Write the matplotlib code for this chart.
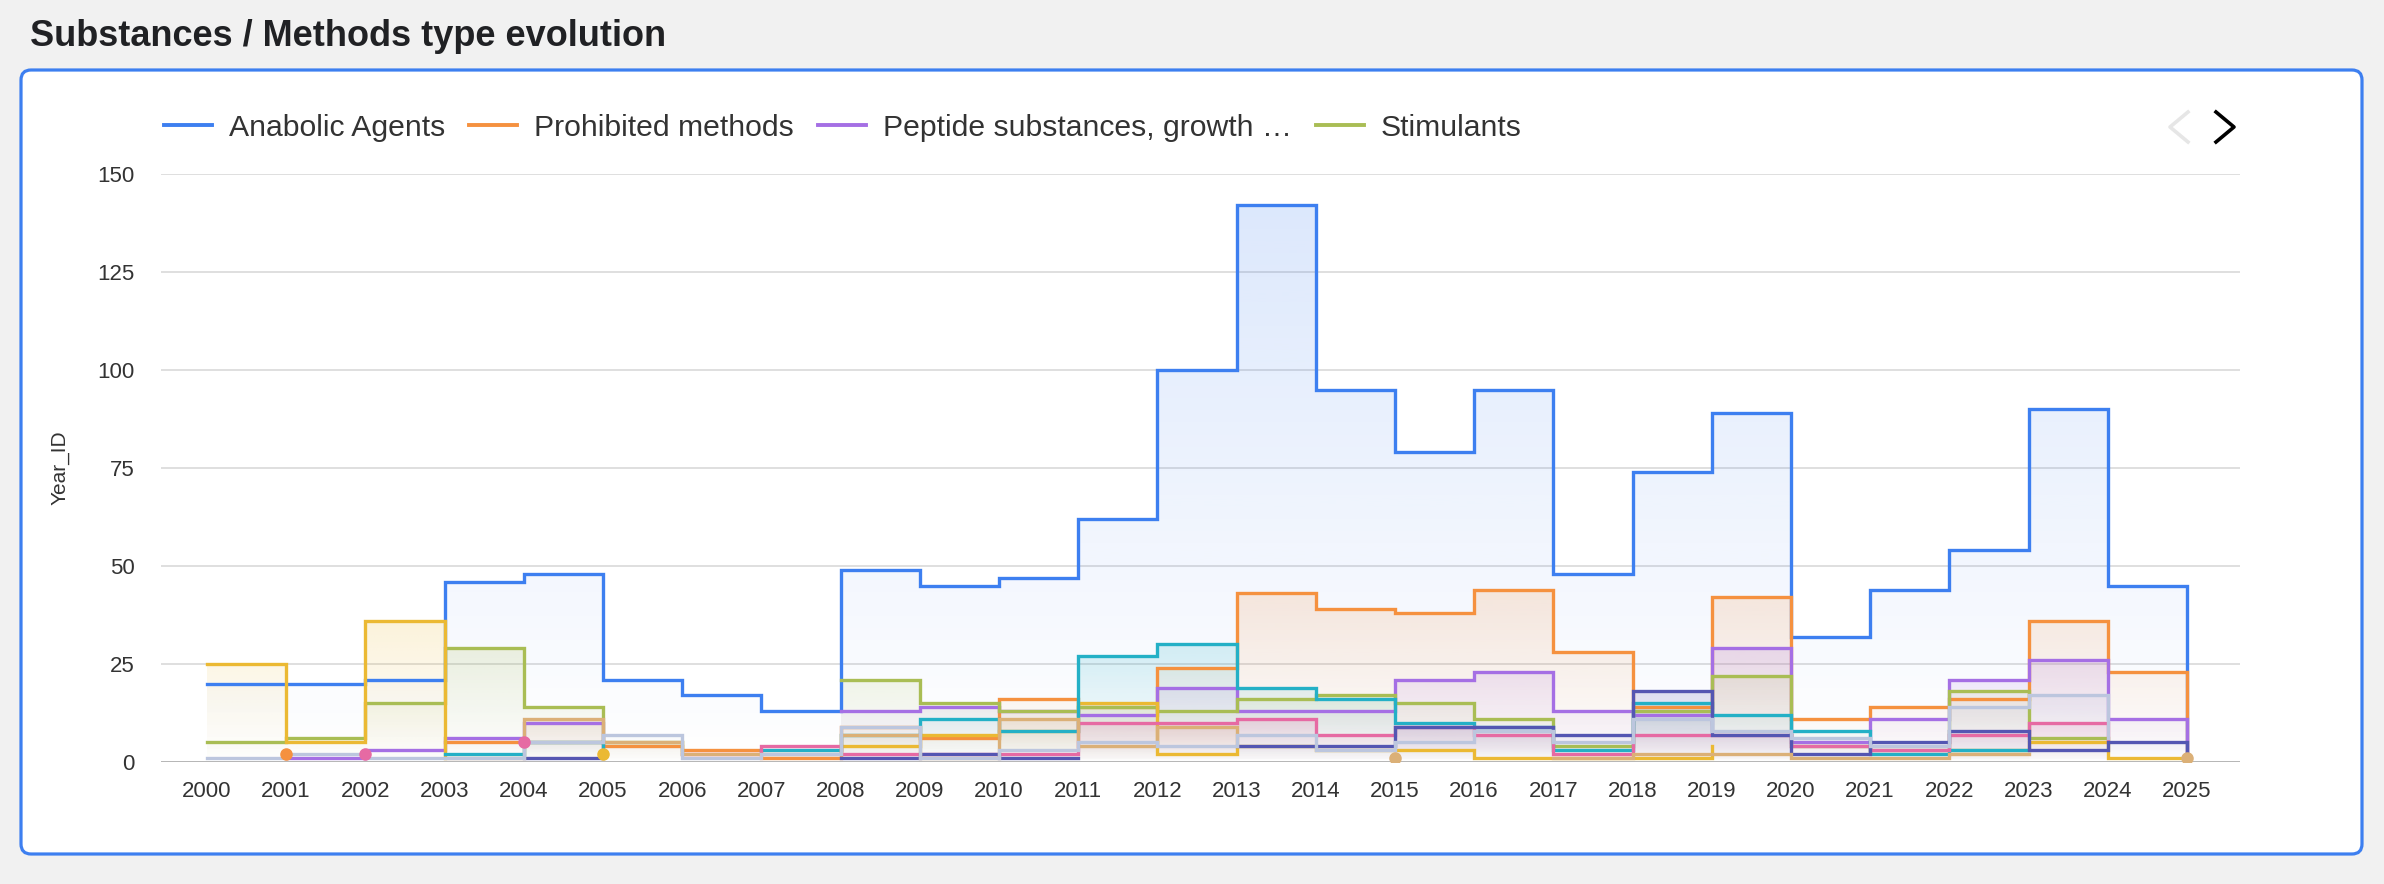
import numpy as np
import matplotlib
matplotlib.use('Agg')
import matplotlib.pyplot as plt
from matplotlib.patches import FancyBboxPatch
from matplotlib.lines import Line2D
from matplotlib.transforms import IdentityTransform
from matplotlib.colors import to_rgb

plt.rcParams['font.family'] = ['Liberation Sans', 'DejaVu Sans']

N = np.nan

# Datos (por año)
years = list(range(2000, 2026))

anabolic = [20, 20, 21, 46, 48, 21, 17, 13, 49, 45, 47, 62, 100, 142, 95, 79, 95, 48, 74, 89, 32, 44, 54, 90, 45, 2]
prohibited = [N, 2, N, 5, 5, 4, 3, 1, 9, 6, 16, 14, 24, 43, 39, 38, 44, 28, 14, 42, 11, 14, 16, 36, 23, 1]
peptide = [N, 1, 3, 6, 10, 2, N, N, 13, 14, 13, 12, 19, 13, 13, 21, 23, 13, 12, 29, 5, 11, 21, 26, 11, 1]
stimulants = [5, 6, 15, 29, 14, 5, 2, N, 21, 15, 13, 14, 13, 16, 17, 15, 11, 4, 13, 22, 4, 3, 18, 6, 5, N]
diuretics = [25, 5, 36, 1, N, 2, N, N, 4, 7, 8, 15, 2, 4, 3, 3, 1, 1, 1, 4, N, N, 3, 5, 1, 1]
hormone = [N, N, N, 2, 5, 2, N, 3, 7, 11, 8, 27, 30, 19, 16, 10, 9, 3, 15, 12, 8, 2, 3, 3, N, N]
beta2 = [N, N, 2, N, 5, N, 2, 4, 2, 2, 2, 10, 10, 11, 7, 9, 7, 2, 7, 7, 4, 3, 7, 10, 5, N]
glucocort = [N, N, N, N, 1, 1, N, N, 1, 2, 1, 1, N, 4, 4, 9, 9, 7, 18, 7, 2, 5, 8, 3, 5, 1]
cannabinoids = [N, N, N, 1, 11, 5, 2, 2, 7, 1, 11, 4, 9, 4, N, 1, N, 1, 2, 2, 1, 1, 2, 2, N, 1]
narcotics = [1, 2, 1, 1, 5, 7, 1, 2, 9, 1, 3, 5, 4, 7, 3, 5, 8, 5, 11, 8, 6, 4, 14, 17, 6, N]

series = [anabolic, prohibited, peptide, stimulants, diuretics,
          hormone, beta2, glucocort, cannabinoids, narcotics]
names = ['Anabolic Agents', 'Prohibited methods', 'Peptide substances, growth \u2026', 'Stimulants',
         'Diuretics and masking agents', 'Hormone and metabolic modulators', 'Beta-2 agonists',
         'Glucocorticoids', 'Cannabinoids', 'Narcotics']
colors = ['#3d7ff0', '#f5913f', '#a56fe4', '#a9bd54', '#ebb933',
          '#24b0c6', '#e66aa3', '#5456b2', '#dbb077', '#bcc6de']

W, H = 2384, 884
fig = plt.figure(figsize=(W / 100, H / 100), dpi=100, facecolor='#f1f1f1')

# tarjeta blanca con borde azul
card = FancyBboxPatch((21, H - 854), 2341, 784, boxstyle='round,pad=0,rounding_size=10',
                      transform=IdentityTransform(), facecolor='white',
                      edgecolor='#3d7ff0', linewidth=2.3, zorder=-1)
fig.add_artist(card)

fig.text(30 / W, 1 - 36 / H, 'Substances / Methods type evolution', fontsize=26,
         fontweight='bold', color='#202124', va='center', ha='left')

ax = fig.add_axes([161 / W, 1 - 762 / H, (2240 - 161) / W, (762 - 174) / H])
ax.set_facecolor('none')

x = np.array(years, dtype=float)
handles = []
for vals, name, col in zip(series, names, colors):
    v = np.asarray(vals, dtype=float)
    idx = np.flatnonzero(~np.isnan(v))
    groups = np.split(idx, np.flatnonzero(np.diff(idx) > 1) + 1)
    vmax = np.nanmax(v)
    rgb = to_rgb(col)
    for g in groups:
        if len(g) == 1:
            ax.plot(x[g], v[g], 'o', color=col, markersize=8, zorder=4)
            continue
        poly = ax.fill_between(x[g], v[g], step='post', facecolor='none', edgecolor='none')
        grad = np.zeros((256, 1, 4))
        grad[..., :3] = rgb
        grad[:, 0, 3] = np.linspace(0.0, 0.18, 256)
        im = ax.imshow(grad, extent=(x[g][0], x[g][-1], 0, vmax), origin='lower',
                       aspect='auto', interpolation='bilinear', zorder=1)
        im.set_clip_path(poly.get_paths()[0], ax.transData)
        ax.step(x[g], v[g], where='post', color=col, linewidth=2.4,
                solid_joinstyle='miter', zorder=3)
    handles.append(Line2D([], [], color=col, linewidth=2.8))

ax.set_xlim(1999.42, 2025.67)
ax.set_ylim(0, 150)
ax.set_yticks([0, 25, 50, 75, 100, 125, 150])
ax.set_xticks(years)
ax.set_xticklabels([str(y) for y in years])
ax.grid(axis='y', color='#d6d6d6', linewidth=1.1, zorder=0)
ax.set_axisbelow(True)
ax.axhline(0, color='#aaaaaa', linewidth=1.8, zorder=2)
for s in ax.spines.values():
    s.set_visible(False)
ax.tick_params(axis='x', length=0, pad=14, labelsize=16, labelcolor='#333333')
ax.tick_params(axis='y', length=0, pad=19, labelsize=16, labelcolor='#333333')
ax.set_ylabel('Year_ID', fontsize=15, color='#333333')
ax.yaxis.set_label_coords((70 - 161) / (2240 - 161), 0.5)

# leyenda (solo la primera página)
fig.legend(handles[:4], names[:4], loc='center left', bbox_to_anchor=(164 / W, 1 - 128 / H),
           ncol=4, frameon=False, fontsize=21.7, handlelength=1.6, handletextpad=0.55,
           columnspacing=0.8, borderpad=0, borderaxespad=0, labelcolor='#333333')

# flechas de paginación
fig.add_artist(Line2D([2188, 2170, 2188], [H - 112, H - 127, H - 142], color='#e6e6e6',
                      linewidth=2.6, transform=IdentityTransform()))
fig.add_artist(Line2D([2216, 2234, 2216], [H - 112, H - 127, H - 142], color='black',
                      linewidth=2.6, transform=IdentityTransform()))

fig.savefig('out.png', dpi=100, facecolor=fig.get_facecolor())
